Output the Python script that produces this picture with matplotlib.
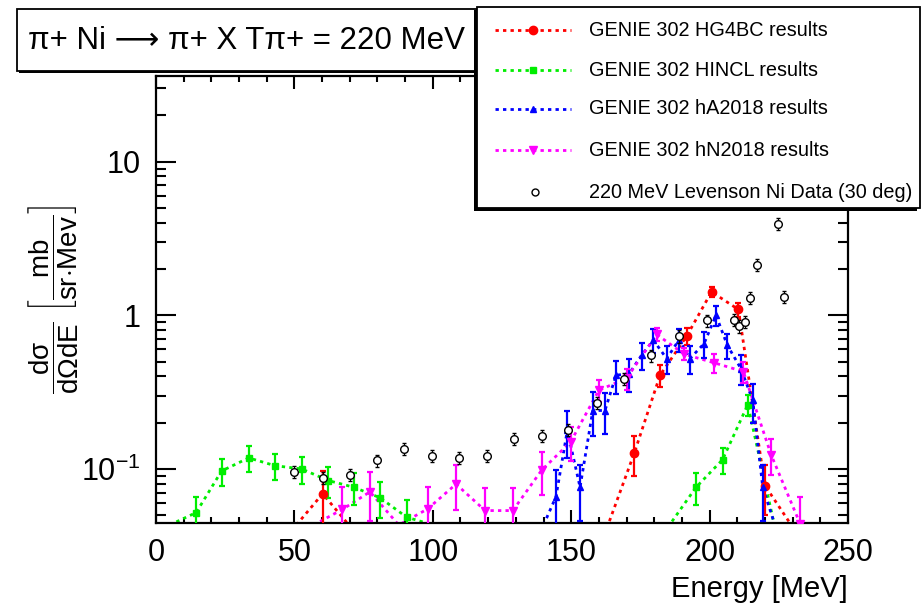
import numpy as np
import matplotlib
matplotlib.use("Agg")
import matplotlib.pyplot as plt
from matplotlib.patches import Rectangle
from matplotlib.lines import Line2D
from matplotlib.ticker import MultipleLocator, LogLocator, NullFormatter

plt.rcParams['font.family'] = ['Liberation Sans', 'DejaVu Sans']
plt.rcParams['mathtext.fontset'] = 'custom'
plt.rcParams['mathtext.rm'] = 'Liberation Sans'
plt.rcParams['mathtext.it'] = 'Liberation Sans'
plt.rcParams['mathtext.sf'] = 'Liberation Sans'

# GENIE 302 HG4BC (0 = empty bin, drawn at the frame bottom like ROOT)
hg4bc_e = [50.7, 60.2, 69.7, 163.3, 172.8, 182.1, 191.7, 200.7, 210.4, 220.0, 229.5]
hg4bc_v = [0, 0.069, 0, 0, 0.127, 0.407, 0.73, 1.42, 1.09, 0.078, 0]
hg4bc_err = [0, 0.028, 0, 0, 0.037, 0.065, 0.09, 0.1, 0.12, 0.028, 0]

# GENIE 302 HINCL
hincl_e = [4.9, 14.5, 23.7, 33.5, 43.0, 52.6, 62.3, 71.5, 80.9, 90.6, 100.2,
           185.5, 195.1, 204.7, 213.8, 223.4]
hincl_v = [0, 0.052, 0.097, 0.118, 0.105, 0.100, 0.084, 0.076, 0.065, 0.0485, 0,
           0, 0.076, 0.115, 0.262, 0]
hincl_err = [0, 0.014, 0.019, 0.022, 0.02, 0.02, 0.019, 0.018, 0.017, 0.014, 0,
             0, 0.018, 0.022, 0.04, 0]

# GENIE 302 hA2018
ha_e = [140.0, 144.5, 148.6, 153.2, 157.8, 162.2, 166.2, 171.0, 175.4, 179.7,
        184.5, 189.0, 192.9, 198.0, 202.3, 206.4, 211.3, 215.6, 219.2, 223.6]
ha_v = [0, 0.066, 0.178, 0.076, 0.24, 0.24, 0.407, 0.417, 0.549, 0.688,
        0.522, 0.694, 0.522, 0.654, 1.0, 0.638, 0.45, 0.279, 0.076, 0]
ha_err = [0, 0.032, 0.06, 0.03, 0.075, 0.07, 0.1, 0.1, 0.11, 0.12,
          0.105, 0.12, 0.11, 0.125, 0.15, 0.12, 0.1, 0.08, 0.03, 0]

# GENIE 302 hN2018
hn_e = [56.9, 67.3, 77.3, 87.7, 98.1, 108.4, 118.9, 128.9, 139.3, 149.8,
        160.0, 170.0, 180.9, 190.8, 201.7, 212.2, 222.2, 232.7, 242.7]
hn_v = [0, 0.0545, 0.071, 0, 0.0549, 0.0797, 0.0536, 0.0536, 0.098, 0.15,
        0.325, 0.389, 0.75, 0.558, 0.49, 0.43, 0.124, 0.044, 0]
hn_err = [0, 0.0215, 0.025, 0, 0.021, 0.026, 0.022, 0.022, 0.03, 0.037,
          0.053, 0.061, 0.07, 0.05, 0.07, 0.07, 0.033, 0.022, 0]

# 220 MeV Levenson Ni data (30 deg)
data_e = [50.0, 60.2, 70.1, 79.7, 89.6, 99.6, 109.6, 119.7, 129.3, 139.3,
          149.0, 159.2, 169.2, 178.8, 188.9, 198.9, 208.8, 210.7, 212.8, 214.6,
          217.0, 219.5, 224.8, 226.7]
data_v = [0.0953, 0.0877, 0.092, 0.1136, 0.135, 0.122, 0.118, 0.122, 0.157, 0.165,
          0.18, 0.268, 0.387, 0.549, 0.73, 0.927, 0.937, 0.848, 0.905, 1.30,
          2.12, 5.6, 3.92, 1.315]

labels = ["GENIE 302 HG4BC results", "GENIE 302 HINCL results",
          "GENIE 302 hA2018 results", "GENIE 302 hN2018 results",
          "220 MeV Levenson Ni Data (30 deg)"]

YMIN, YMAX = 0.0445, 36.0
W, H = 924, 604

fig = plt.figure(figsize=(W / 100, H / 100), dpi=100)
ax = fig.add_axes([156 / W, (H - 523) / H, (848 - 156) / W, (523 - 76) / H])
ax.set_yscale('log')
ax.set_xlim(0, 250)
ax.set_ylim(YMIN, YMAX)

models = [
    (hg4bc_e, hg4bc_v, hg4bc_err, '#ff0000', 'o', 6.0),
    (hincl_e, hincl_v, hincl_err, '#00ee00', 's', 5.0),
    (ha_e, ha_v, ha_err, '#0000ff', '^', 4.5),
    (hn_e, hn_v, hn_err, '#ff00ff', 'v', 6.0),
]
DOTS = (0, (1.2, 1.5))
for e, v, err, col, mk, ms in models:
    e = np.asarray(e); v = np.asarray(v, float); err = np.asarray(err, float)
    # empty bins sit just under the frame so the curve drops out of view
    ax.plot(e, np.where(v > 0, v, YMIN * 0.97), color=col, lw=2,
            linestyle=DOTS, zorder=2)
    ok = v > 0
    lo = np.minimum(err[ok], v[ok] * 0.999)
    ax.errorbar(e[ok], v[ok], yerr=[lo, err[ok]], fmt=mk, color=col, ms=ms,
                elinewidth=1.6, capsize=2.5, capthick=1.6, zorder=3)

ax.errorbar(data_e, data_v, yerr=np.asarray(data_v) * 0.09, fmt='o', mfc='white',
            mec='black', ecolor='black', ms=5.5, mew=1.0, elinewidth=0.8,
            capsize=1.5, capthick=0.8, zorder=4)

# ROOT style frame and ticks
for s in ax.spines.values():
    s.set_linewidth(1.6)
ax.set_xticks([0, 50, 100, 150, 200, 250])
ax.xaxis.set_minor_locator(MultipleLocator(10))
ax.set_yticks([0.1, 1, 10], labels=[r'$10^{-1}$', '1', '10'])
ax.yaxis.set_minor_locator(LogLocator(subs=np.arange(2, 10)))
ax.yaxis.set_minor_formatter(NullFormatter())
ax.tick_params(which='both', direction='in', top=True, right=True, width=1.5)
ax.tick_params(axis='x', which='major', length=9.5, pad=11, labelsize=22)
ax.tick_params(axis='x', which='minor', length=4.5)
ax.tick_params(axis='y', which='major', length=14.5, pad=11, labelsize=22)
ax.tick_params(axis='y', which='minor', length=7.5)

fig.text(848 / W, 1 - 589 / H, 'Energy [MeV]', ha='right', va='center', fontsize=21)
fig.text(53 / W, 1 - 299 / H,
         r'$\dfrac{d\sigma}{d\Omega dE}\ \left[\dfrac{mb}{sr{\cdot}Mev}\right]$',
         rotation=90, ha='center', va='center', fontsize=20)

# overlay in pixel coordinates for title box and legend
ov = fig.add_axes([0, 0, 1, 1], zorder=10)
ov.set_xlim(0, W)
ov.set_ylim(H, 0)
ov.axis('off')
ov.patch.set_alpha(0)

ov.add_patch(Rectangle((19, 11), 460, 62, facecolor='black', edgecolor='none'))
ov.add_patch(Rectangle((17, 9), 460, 62, facecolor='white', edgecolor='black', lw=1.3))
ov.text(246, 41, 'π+ Ni ⟶ π+ X Tπ+ = 220 MeV', ha='center', va='center',
        fontsize=22.5)

ov.add_patch(Rectangle((474, 10), 443, 201, facecolor='black', edgecolor='none'))
ov.add_patch(Rectangle((477, 7), 443, 201, facecolor='white', edgecolor='black', lw=1.3))
rows = [30, 70, 109, 150, 192]
for (e, v, err, col, mk, ms), ry, lab in zip(models, rows, labels):
    ov.add_line(Line2D([495, 571], [ry, ry], color=col, lw=2, linestyle=DOTS))
    ov.add_line(Line2D([533], [ry], marker=mk, color=col, ms=ms, linestyle='none'))
    ov.text(589, ry, lab, ha='left', va='center', fontsize=14.3)
ov.add_line(Line2D([535], [rows[4]], marker='o', mfc='white', mec='black',
                   ms=5, mew=1.0, linestyle='none'))
ov.text(589, rows[4], labels[4], ha='left', va='center', fontsize=14.3)

fig.savefig('out.png', dpi=100)
